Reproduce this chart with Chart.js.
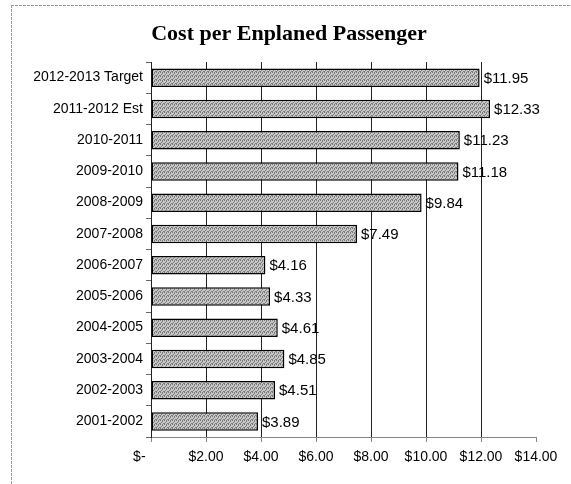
<!DOCTYPE html>
<html><head><meta charset="utf-8">
<script src="https://cdn.jsdelivr.net/npm/chart.js@4/dist/chart.umd.min.js"></script>
<style>html,body{margin:0;padding:0;background:#fff;}#wrap{width:571px;height:484px;position:relative;}</style>
</head><body><div id="wrap"><canvas id="c" width="571" height="484"></canvas></div>
<script>
const categories = ["2012-2013 Target","2011-2012 Est","2010-2011","2009-2010","2008-2009","2007-2008","2006-2007","2005-2006","2004-2005","2003-2004","2002-2003","2001-2002"];
const costValues = [11.95,12.33,11.23,11.18,9.84,7.49,4.16,4.33,4.61,4.85,4.51,3.89];
const xTickMax = 14;
const xTickStep = 2;
const chartTitle = "Cost per Enplaned Passenger";

function makePattern(){
  const p = document.createElement('canvas'); p.width = 4; p.height = 4;
  const g = p.getContext('2d');
  g.fillStyle = '#c8c8c8'; g.fillRect(0,0,4,4);
  g.fillStyle = '#7a7a7a';
  [[0,0],[2,1],[1,2],[3,3],[2,0],[0,3]].forEach(([x,y])=>g.fillRect(x,y,1,1));
  return document.getElementById('c').getContext('2d').createPattern(p,'repeat');
}
const fmt = v => '$' + v.toFixed(2);

const frame = {
  id:'frame',
  beforeDraw(chart){
    const ctx = chart.ctx; ctx.save();
    ctx.fillStyle='#fff'; ctx.fillRect(0,0,chart.width,chart.height);
    ctx.strokeStyle='#9a9a9a'; ctx.lineWidth=1; ctx.setLineDash([3,1]);
    ctx.beginPath(); ctx.moveTo(11,5.5); ctx.lineTo(571,5.5);
    ctx.moveTo(11.5,5); ctx.lineTo(11.5,484); ctx.stroke();
    ctx.setLineDash([]);
    ctx.font = 'bold 22px "Liberation Serif", "Times New Roman", serif';
    ctx.fillStyle = '#000'; ctx.textAlign = 'center'; ctx.textBaseline = 'middle';
    ctx.fillText(chartTitle, 289, 34);
    ctx.restore();
  }
};
const valueLabels = {
  id:'valueLabels',
  afterDatasetsDraw(chart){
    const ctx = chart.ctx; ctx.save();
    ctx.font = '15px "Liberation Sans", Arial, sans-serif';
    ctx.fillStyle = '#000'; ctx.textBaseline='middle'; ctx.textAlign='left';
    chart.getDatasetMeta(0).data.forEach((bar,i)=>{
      ctx.fillText(fmt(costValues[i]), bar.x + 4, bar.y + 1);
    });
    ctx.restore();
  }
};

new Chart(document.getElementById('c'), {
  type:'bar',
  data:{ labels: categories, datasets:[{ data: costValues, backgroundColor: makePattern(), borderColor:'#000', borderWidth:1.5, borderSkipped:false, categoryPercentage:0.8, barPercentage:0.74 }]},
  options:{
    indexAxis:'y', responsive:false, animation:false,
    layout:{ padding:{ left:0, right:35, top:62, bottom:0 } },
    plugins:{
      legend:{display:false}, tooltip:{enabled:false}, title:{display:false}
    },
    scales:{
      x:{ min:0, max:xTickMax,
        ticks:{ stepSize:xTickStep, color:'#000', padding:7, font:{ family:'"Liberation Sans", Arial, sans-serif', size:14 }, maxRotation:0,
          callback:(v)=> v===0 ? '$-      ' : fmt(v) },
        grid:{ color:(c)=> (c.tick && (c.tick.value===0 || c.tick.value===xTickMax)) ? 'rgba(0,0,0,0)' : '#222', lineWidth:1, tickColor:'#888', tickLength:5, drawTicks:true },
        border:{ display:true, color:'#888', width:1 },
        afterFit(s){ s.height = 47; }
      },
      y:{
        ticks:{ color:'#000', padding:3, font:{ family:'"Liberation Sans", Arial, sans-serif', size:14 } },
        grid:{ drawOnChartArea:false, drawTicks:true, tickLength:5, offset:true, tickColor:'#666' },
        border:{ display:true, color:'#222', width:1 },
        afterFit(s){ s.width = 151; }
      }
    }
  },
  plugins:[frame, valueLabels]
});
</script></body></html>
